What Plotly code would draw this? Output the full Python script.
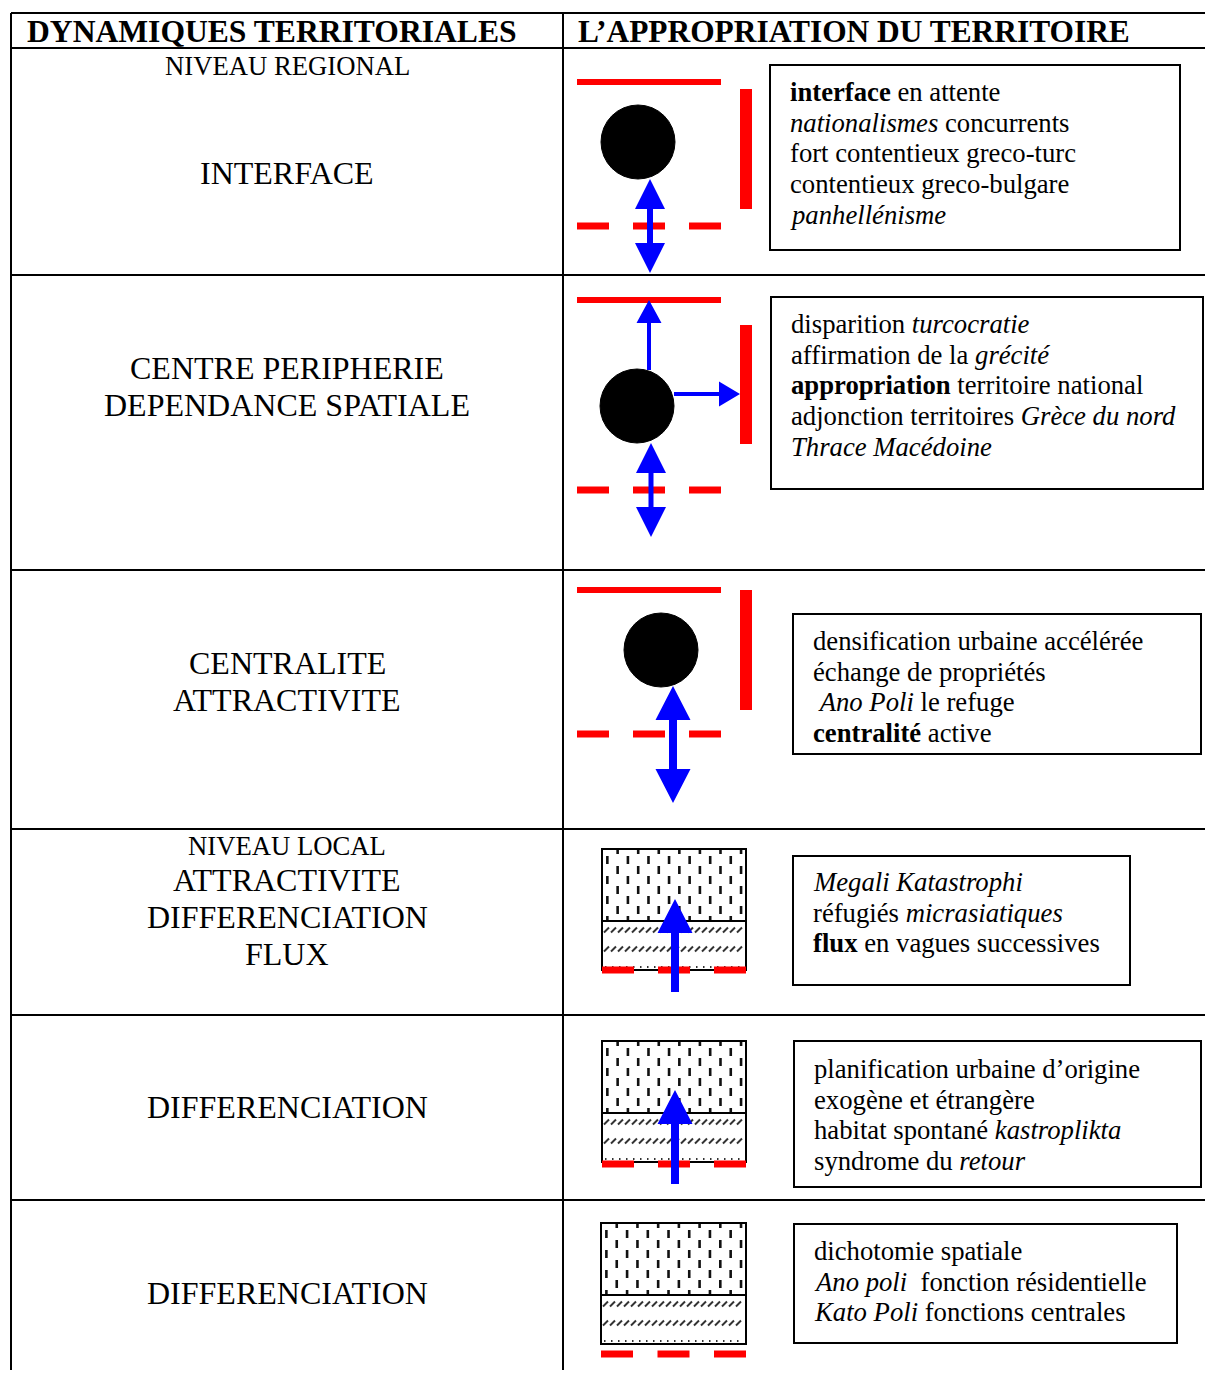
import plotly.graph_objects as go

# ---- content -------------------------------------------------------------
HEADERS = ["DYNAMIQUES TERRITORIALES", "L’APPROPRIATION DU TERRITOIRE"]
LEVELS = ["NIVEAU REGIONAL", None, None, "NIVEAU LOCAL", None, None]
DYNAMICS = [
    ["INTERFACE"],
    ["CENTRE PERIPHERIE", "DEPENDANCE SPATIALE"],
    ["CENTRALITE", "ATTRACTIVITE"],
    ["ATTRACTIVITE", "DIFFERENCIATION", "FLUX"],
    ["DIFFERENCIATION"],
    ["DIFFERENCIATION"],
]
NOTES = [
    ["<b>interface</b> en attente", "<i>nationalismes</i> concurrents",
     "fort contentieux greco-turc", "contentieux greco-bulgare", "<i>panhellénisme</i>"],
    ["disparition <i>turcocratie</i>", "affirmation de la <i>grécité</i>",
     "<b>appropriation</b> territoire national",
     "adjonction territoires <i>Grèce du nord</i>", "<i>Thrace Macédoine</i>"],
    ["densification urbaine accélérée", "échange de propriétés",
     "\u00a0<i>Ano Poli</i> le refuge", "<b>centralité</b> active"],
    ["<i>Megali Katastrophi</i>", "réfugiés <i>micrasiatiques</i>",
     "<b>flux</b> en vagues successives"],
    ["planification urbaine d’origine", "exogène et étrangère",
     "habitat spontané <i>kastroplikta</i>", "syndrome du <i>retour</i>"],
    ["dichotomie spatiale", "<i>Ano poli</i>\u00a0 fonction résidentielle",
     "<i>Kato Poli</i> fonctions centrales"],
]

# ---- geometry (page pixels, y downwards) ---------------------------------
W, H = 1213, 1378
PAGE_MARGIN = 8  # default body margin of the html page
LEFT, MID, TOP, HEAD_BOTTOM = 11, 563, 13, 48
ROW_LINES = [275, 570, 829, 1015, 1200]
LABEL_X = 287
LEVEL_Y = [66, None, None, 846, None, None]
DYN_Y = [[173], [368, 405], [663, 700], [880, 917, 954], [1107], [1293]]

NOTE_BOX = [(770, 65, 1180, 250), (771, 297, 1203, 489), (793, 614, 1201, 754),
            (793, 856, 1130, 985), (794, 1041, 1201, 1187), (794, 1224, 1177, 1343)]
NOTE_FIRST_Y = [92, 324, 641, 882, 1069, 1251]
NOTE_STEP = 30.7

NODES = [(638, 142), (637, 406), (661, 650)]
NODE_R = 37
TOP_LINE_Y = [82, 300, 590]
BAR_Y = [(89, 209), (325, 444), (590, 710)]
DASH_Y = [226, 490, 734]

BLOCKS = [(602, 849, 746, 921, 970), (602, 1041, 746, 1113, 1162), (601, 1223, 746, 1295, 1344)]
BLOCK_DASH_Y = [970, 1164, 1354]

# (x0, y0, x1, y1, shaft, head_len, head_half, both_ends)
ARROWS = [
    (650, 273, 650, 179, 6, 30, 15, True),
    (649, 370, 649, 300, 4, 23, 12.5, False),
    (674, 394, 740, 394, 4, 21, 12.5, False),
    (651, 537, 651, 443, 5, 30, 15, True),
    (673, 803, 673, 686, 8, 34, 17.5, True),
    (675, 992, 675, 899, 8, 34, 17.5, False),
    (675, 1184, 675, 1090, 8, 34, 17.5, False),
]

RED, BLUE = "#ff0000", "#0000ff"
SERIF = "Liberation Serif, Times New Roman, serif"

fig = go.Figure()
shapes = []
annotations = []


def line(x0, y0, x1, y1, color="black", width=2):
    shapes.append(dict(type="line", x0=x0, y0=y0, x1=x1, y1=y1,
                       line=dict(color=color, width=width), layer="above"))


def rect(x0, y0, x1, y1, fill=None, border="black", bw=2):
    shapes.append(dict(type="rect", x0=x0, y0=y0, x1=x1, y1=y1,
                       fillcolor=fill or "rgba(0,0,0,0)",
                       line=dict(color=border, width=bw if border else 0), layer="above"))


def red_dashes(x0, x1, y, thick=7, n=3, dash=32):
    gap = (x1 - x0 - n * dash) / (n - 1)
    for i in range(n):
        a = x0 + i * (dash + gap)
        rect(a, y - thick / 2, a + dash, y + thick / 2, fill=RED, border=None)


def arrow_path(x0, y0, x1, y1, shaft, hl, hw, both):
    dx, dy = x1 - x0, y1 - y0
    L = (dx * dx + dy * dy) ** 0.5
    ux, uy = dx / L, dy / L
    px, py = -uy, ux

    def pt(t, s):
        return (x0 + ux * t + px * s, y0 + uy * t + py * s)

    s = shaft / 2
    pts = []
    if both:
        pts += [pt(0, 0), pt(hl, hw), pt(hl, s)]
    else:
        pts += [pt(0, s)]
    pts += [pt(L - hl, s), pt(L - hl, hw), pt(L, 0), pt(L - hl, -hw), pt(L - hl, -s)]
    if both:
        pts += [pt(hl, -s), pt(hl, -hw)]
    else:
        pts += [pt(0, -s)]
    return "M " + " L ".join(f"{x:.1f},{y:.1f}" for x, y in pts) + " Z"


def text(x, y, s, size, anchor="center"):
    annotations.append(dict(x=x, y=y, text=s, showarrow=False, xanchor=anchor,
                            yanchor="middle", font=dict(family=SERIF, size=size, color="black")))


# table grid
line(LEFT, TOP, W, TOP)
line(LEFT, HEAD_BOTTOM, W, HEAD_BOTTOM)
line(LEFT, TOP, LEFT, H)
line(MID, TOP, MID, H)
for y in ROW_LINES:
    line(LEFT, y, W, y)

text(25, 31, f"<b>{HEADERS[0]}</b>", 31.6, "left")
text(576, 31, f"<b>{HEADERS[1]}</b>", 31.4, "left")

for i, labels in enumerate(DYNAMICS):
    if LEVELS[i]:
        text(LABEL_X, LEVEL_Y[i], LEVELS[i], 26.7)
    for lab, y in zip(labels, DYN_Y[i]):
        text(LABEL_X, y, lab, 32)

# note boxes
for box, first, lines_ in zip(NOTE_BOX, NOTE_FIRST_Y, NOTES):
    rect(*box)
    for k, s in enumerate(lines_):
        text(box[0] + 18, first + k * NOTE_STEP, s, 26.7, "left")

# regional schemes: node between limits
for (cx, cy), ty, (b0, b1), dy in zip(NODES, TOP_LINE_Y, BAR_Y, DASH_Y):
    rect(577, ty - 3, 721, ty + 3, fill=RED, border=None)
    rect(740, b0, 752, b1, fill=RED, border=None)
    red_dashes(577, 721, dy)
    shapes.append(dict(type="circle", x0=cx - NODE_R, y0=cy - NODE_R, x1=cx + NODE_R,
                       y1=cy + NODE_R, fillcolor="black", line=dict(color="black", width=1),
                       layer="above"))

# local schemes: textured blocks
px, py = [], []
hx, hy = [], []
for x0, y0, x1, ymid, y1 in BLOCKS:
    step = (x1 - x0) / 14
    for c in range(14):
        xc = x0 + 0.5 * step + c * step + 0.2
        offs = 0 if c % 2 else 10
        yy = y0 + offs - 3
        while yy < ymid:
            a, b = max(yy, y0), min(yy + 8, ymid)
            if b > a:
                px += [xc, xc, None]
                py += [a, b, None]
            yy += 20
    for ry in (ymid + 9, ymid + 28):
        xx = x0 + 2
        while xx + 5 < x1:
            hx += [xx, xx + 5, None]
            hy += [ry + 2.5, ry - 2.5, None]
            xx += 7
    xx = x0 + 3
    while xx < x1 - 2:
        hx += [xx, xx + 1.5, None]
        hy += [y1 - 3, y1 - 3, None]
        xx += 7

fig.add_trace(go.Scatter(x=px, y=py, mode="lines", line=dict(color="#111", width=2.6),
                         hoverinfo="skip", showlegend=False))
fig.add_trace(go.Scatter(x=hx, y=hy, mode="lines", line=dict(color="#333", width=2),
                         hoverinfo="skip", showlegend=False))

for (x0, y0, x1, ymid, y1), dy in zip(BLOCKS, BLOCK_DASH_Y):
    rect(x0, y0, x1, y1)
    line(x0, ymid, x1, ymid)
    red_dashes(x0, x1, dy)

for a in ARROWS:
    shapes.append(dict(type="path", path=arrow_path(*a), fillcolor=BLUE,
                       line=dict(color=BLUE, width=0), layer="above"))

# the page puts the plot 8px in from the top-left corner, so shift the ranges
fw, fh = W - 2 * PAGE_MARGIN, H - 2 * PAGE_MARGIN
fig.update_layout(
    width=fw, height=fh,
    margin=dict(l=0, r=0, t=0, b=0),
    paper_bgcolor="white", plot_bgcolor="white",
    xaxis=dict(range=[PAGE_MARGIN, PAGE_MARGIN + fw], visible=False, fixedrange=True),
    yaxis=dict(range=[PAGE_MARGIN + fh, PAGE_MARGIN], visible=False, fixedrange=True),
    shapes=shapes, annotations=annotations,
)
fig.write_html("out.html")
